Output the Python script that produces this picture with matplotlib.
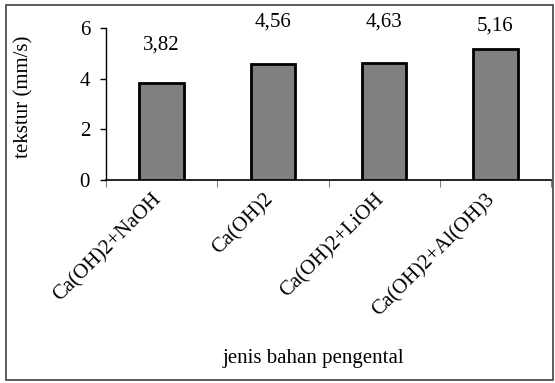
import matplotlib
matplotlib.use("Agg")
import matplotlib.pyplot as plt

categories = ["Ca(OH)2+NaOH", "Ca(OH)2", "Ca(OH)2+LiOH", "Ca(OH)2+Al(OH)3"]
values = [3.82, 4.56, 4.63, 5.16]
value_labels = ["3,82", "4,56", "4,63", "5,16"]
label_offsets = [1.52, 1.66, 1.59, 0.93]  # gap between bar top and its label, data units

plt.rcParams["font.family"] = ["Liberation Serif", "DejaVu Serif"]
FS = 15

fig = plt.figure(figsize=(5.55, 3.83), dpi=100)
ax = fig.add_axes([106 / 555, 1 - 180 / 383, (551 - 106) / 555, (180 - 28) / 383])

x = list(range(len(categories)))
ax.bar(x, values, width=0.4, color="#808080", edgecolor="black", linewidth=2, zorder=3)

for xi, v, lab, off in zip(x, values, value_labels, label_offsets):
    ax.text(xi, v + off, lab, ha="center", va="center", fontsize=FS, clip_on=False)

ax.set_xlim(-0.5, len(categories) - 0.5)
ax.set_ylim(0, 6)
ax.set_yticks([0, 2, 4, 6])
ax.tick_params(axis="y", labelsize=FS, length=4.5, width=1, direction="out", pad=7)

ax.set_xticks([i - 0.5 for i in range(len(categories) + 1)])
ax.set_xticklabels([])
ax.tick_params(axis="x", length=5, width=0.8, direction="out", colors="#808080")
for xi, c in zip(x, categories):
    ax.annotate(c, xy=(xi, 0), xycoords=("data", "axes fraction"),
                xytext=(-2, -12), textcoords="offset points",
                rotation=45, rotation_mode="anchor", ha="right", va="center",
                fontsize=FS)

for s in ["top", "right"]:
    ax.spines[s].set_visible(False)
ax.spines["left"].set_linewidth(1)
ax.spines["bottom"].set_linewidth(1.2)

fig.text(24 / 555, 1 - 97 / 383, "tekstur (mm/s)", rotation=90,
         ha="center", va="center", fontsize=FS)
fig.text(313 / 555, 1 - 358 / 383, "jenis bahan pengental",
         ha="center", va="center", fontsize=FS)

# outer frame
fig.patches.append(plt.Rectangle((6 / 555, 1 - 380 / 383), (553 - 6) / 555, (380 - 5) / 383,
                                 transform=fig.transFigure, fill=False,
                                 edgecolor="#404040", linewidth=1.2))

fig.savefig("out.png", dpi=100)
